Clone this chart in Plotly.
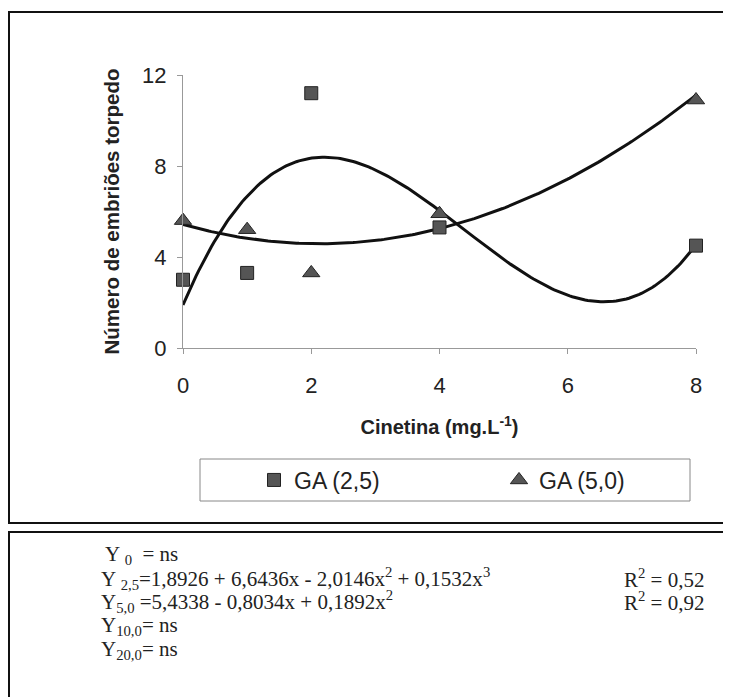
import numpy as np
import plotly.graph_objects as go

# ---- data ----
cinetina = [0, 1, 2, 4, 8]
ga_25 = [3.0, 3.3, 11.2, 5.3, 4.5]
ga_50 = [5.6, 5.2, 3.3, 5.9, 10.9]
# printed regression coefficients (constant, x, x^2, x^3)
coef_25 = [1.8926, 6.6436, -2.0146, 0.1532]
coef_50 = [5.4338, -0.8034, 0.1892]
x_ticks = [0, 2, 4, 6, 8]
y_ticks = [0, 4, 8, 12]

# page has an 8px body margin; figure is placed at (8, 8)
OFF = 8
W, H = 731 - OFF, 697 - OFF
L, R, T, B = 183 - OFF, 35, 75 - OFF, 349
PW, PH = W - L - R, H - T - B


def px(x):  # page pixel -> paper fraction
    return (x - OFF - L) / PW


def py(y):
    return (H - B - (y - OFF)) / PH


xfit = np.linspace(0, 8, 200)
yfit_25 = np.polynomial.polynomial.polyval(xfit, coef_25)
yfit_50 = np.polynomial.polynomial.polyval(xfit, coef_50)

fig = go.Figure()
fig.add_trace(go.Scatter(x=xfit, y=yfit_25, mode="lines", line=dict(color="#111", width=3),
                         showlegend=False, hoverinfo="skip", cliponaxis=False))
fig.add_trace(go.Scatter(x=xfit, y=yfit_50, mode="lines", line=dict(color="#111", width=3),
                         showlegend=False, hoverinfo="skip", cliponaxis=False))
fig.add_trace(go.Scatter(x=cinetina, y=ga_25, mode="markers", name="GA (2,5)", legend="legend",
                         marker=dict(symbol="square", size=13, color="#555",
                                     line=dict(color="#222", width=1)), cliponaxis=False))
fig.add_trace(go.Scatter(x=cinetina, y=ga_50, mode="markers", name="GA (5,0)", legend="legend2",
                         marker=dict(symbol="triangle-up", size=15, color="#555",
                                     line=dict(color="#222", width=1)), cliponaxis=False))

axis_common = dict(showgrid=False, zeroline=False, showline=True, linecolor="#999", linewidth=1,
                   ticks="outside", ticklen=5, tickcolor="#999",
                   tickfont=dict(family="Liberation Sans, Arial", size=22, color="#222"))
fig.update_xaxes(range=[0, 8], tickvals=x_ticks, ticklabelstandoff=13,
                 title=dict(text="<b>Cinetina (mg.L<sup>-1</sup>)</b>",
                            font=dict(family="Liberation Sans, Arial", size=20, color="#222"),
                            standoff=22),
                 **axis_common)
fig.update_yaxes(range=[0, 12], tickvals=y_ticks, ticklabelstandoff=6,
                 title=dict(text="<b>Número de embriões torpedo</b>",
                            font=dict(family="Liberation Sans, Arial", size=20.5, color="#222"),
                            standoff=16),
                 **axis_common)

shapes = [
    # outer chart box
    dict(type="rect", xref="paper", yref="paper", x0=px(9), x1=px(729), y0=py(12), y1=py(523),
         line=dict(color="#111", width=2), layer="below"),
    # equations box
    dict(type="rect", xref="paper", yref="paper", x0=px(9), x1=px(729), y0=py(532), y1=py(705),
         line=dict(color="#111", width=2), layer="below"),
    # legend box
    dict(type="rect", xref="paper", yref="paper", x0=px(200), x1=px(690), y0=py(459), y1=py(501),
         line=dict(color="#888", width=1), layer="below"),
]

eq_font = dict(family="Liberation Serif, Times New Roman", size=21, color="#222")
eq_lines = [
    ("Y <sub>0</sub>  = ns", 103, 555),
    ("Y <sub>2,5</sub>=1,8926 + 6,6436x - 2,0146x<sup>2</sup> + 0,1532x<sup>3</sup>", 99, 578),
    ("Y<sub>5,0</sub> =5,4338 - 0,8034x + 0,1892x<sup>2</sup>", 99, 601),
    ("Y<sub>10,0</sub>= ns", 99, 626),
    ("Y<sub>20,0</sub>= ns", 99, 650),
    ("R<sup>2</sup> = 0,52", 622, 578),
    ("R<sup>2</sup> = 0,92", 622, 601),
]
annotations = [dict(text=t, xref="paper", yref="paper", x=px(x), y=py(y), xanchor="left",
                    yanchor="middle", showarrow=False, font=eq_font) for t, x, y in eq_lines]

legend_font = dict(family="Liberation Sans, Arial", size=23, color="#222")
fig.update_layout(
    width=W, height=H, margin=dict(l=L, r=R, t=T, b=B),
    plot_bgcolor="white", paper_bgcolor="white",
    shapes=shapes, annotations=annotations,
    legend=dict(x=px(254), y=py(480), xanchor="left", yanchor="middle", font=legend_font,
                bgcolor="rgba(0,0,0,0)", borderwidth=0),
    legend2=dict(x=px(499), y=py(480), xanchor="left", yanchor="middle", font=legend_font,
                 bgcolor="rgba(0,0,0,0)", borderwidth=0),
)

fig.write_html("out.html")
